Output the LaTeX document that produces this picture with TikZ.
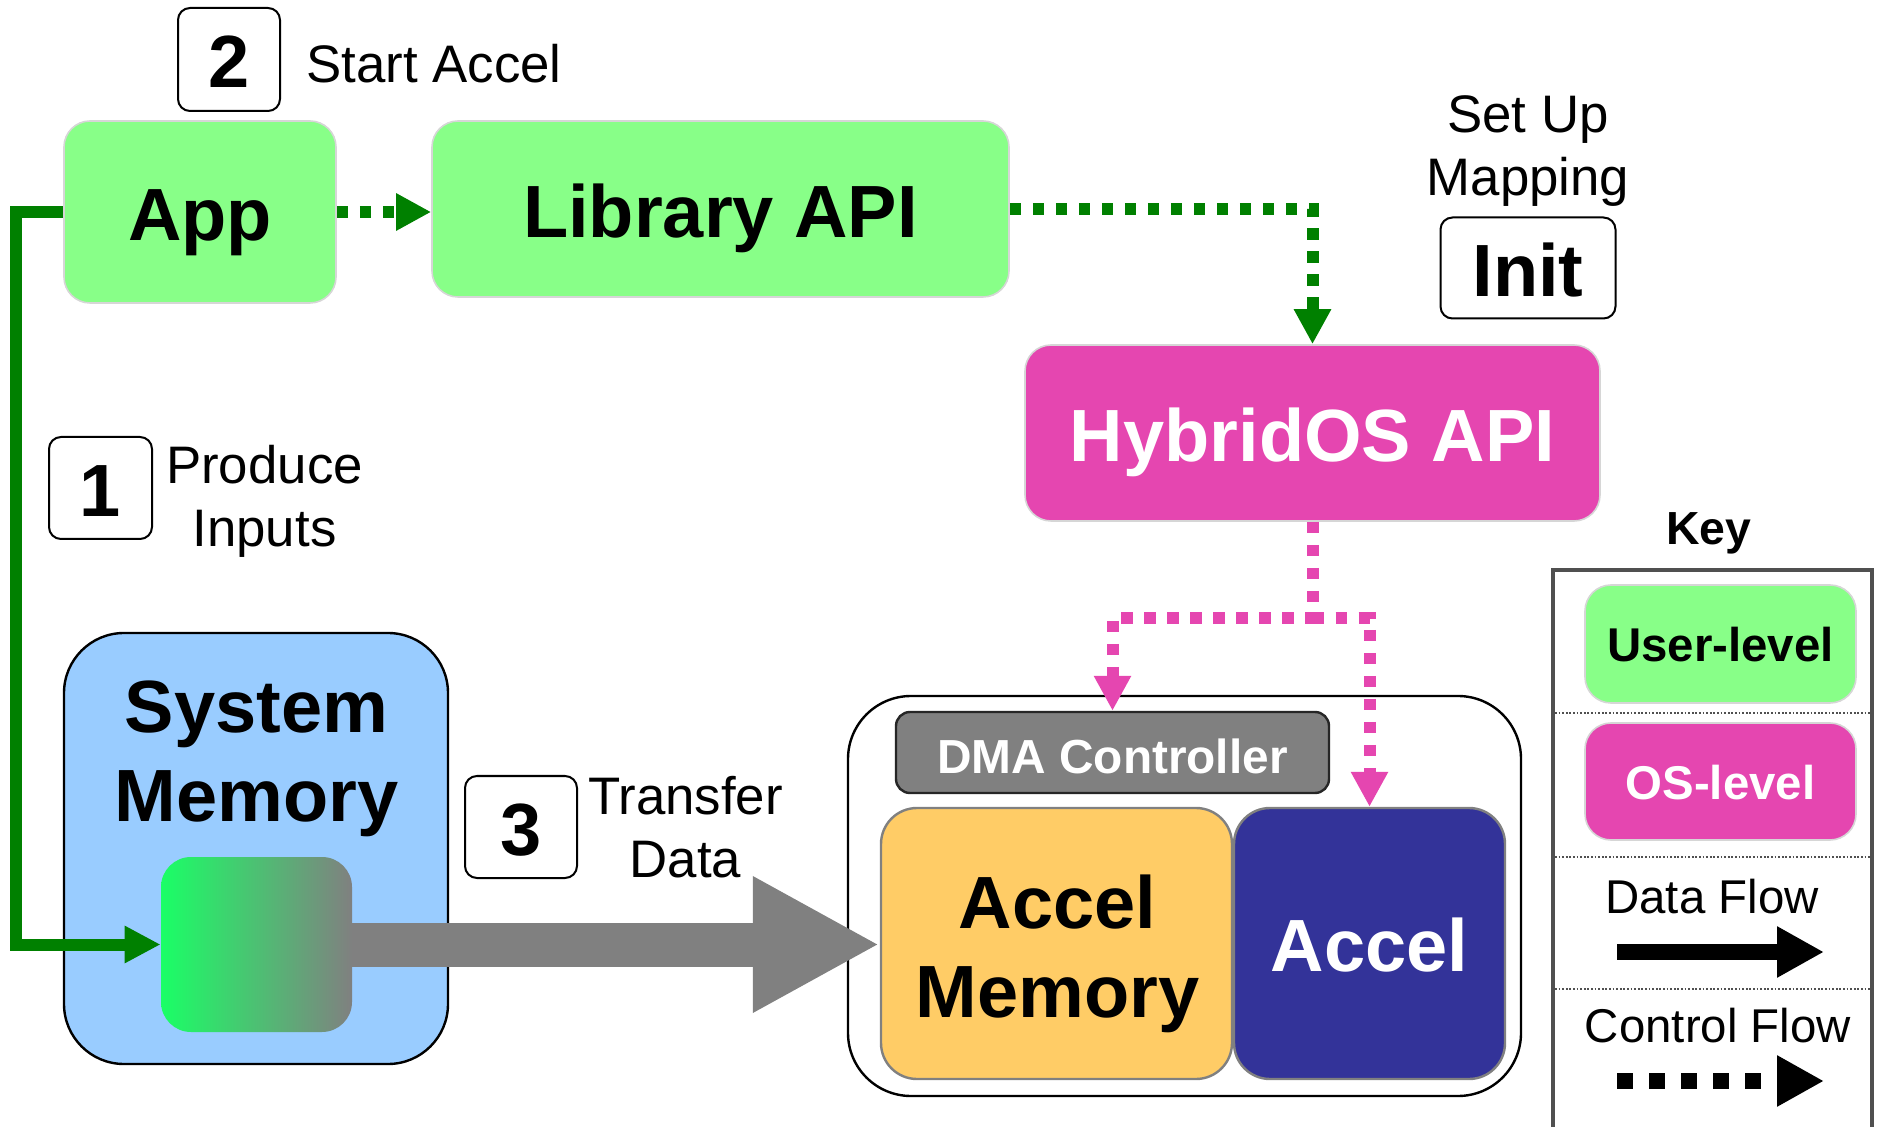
\documentclass[tikz,border=0pt]{standalone}
\usepackage{fontspec}
\setmainfont{Liberation Sans}
\usetikzlibrary{arrows.meta,calc}

\definecolor{usergreen}{HTML}{88FF88}
\definecolor{ospink}{HTML}{E546B0}
\definecolor{softedge}{HTML}{D6D6D6}
\definecolor{sysblue}{HTML}{99CCFF}
\definecolor{bufgreen}{HTML}{1AFF66}
\definecolor{midgray}{HTML}{808080}
\definecolor{memorange}{HTML}{FFCC66}
\definecolor{accblue}{HTML}{333399}
\definecolor{flowgreen}{HTML}{008000}
\definecolor{keyedge}{HTML}{505050}
\definecolor{dmaedge}{HTML}{262626}

\begin{document}
\begin{tikzpicture}[x=0.5pt,y=-0.5pt,
  bigbold/.style={font=\fontsize{37}{44.5}\selectfont\bfseries},
  keyfont/.style={font=\fontsize{23.7}{28.4}\selectfont},
  notefont/.style={font=\fontsize{26.4}{31.7}\selectfont},
  bigbox/.style={inner sep=0pt, bigbold, text height=35.5pt, text depth=7.4pt},
  keybox/.style={inner sep=0pt, keyfont, text height=22.7pt, text depth=4.7pt},
  userbox/.style={fill=usergreen, draw=softedge, line width=0.8pt, rounded corners=13pt},
  osbox/.style={fill=ospink, draw=softedge, line width=0.8pt, rounded corners=13pt, text=white},
  stepnum/.style={bigbox, draw=black, line width=1pt, rounded corners=6pt, fill=white},
  plaintext/.style={inner sep=0pt, align=center},
  ctrlflow/.style={line width=6pt, dash pattern=on 5.75pt off 5.75pt,
    -{Triangle[length=17.5pt,width=17.5pt]}},
  keyarrow/.style={line width=8pt, -{Triangle[length=23.5pt,width=24pt]}},
  sepline/.style={draw=keyedge, line width=0.8pt, dash pattern=on 0.9pt off 0.9pt},
]
\useasboundingbox (0,0) rectangle (1879,1127);

% ---- user-level software ----
\node[stepnum, minimum width=51pt, minimum height=51.5pt] (n2) at (229,59.5) {2};
\node[notefont, inner sep=0pt, anchor=base west] (t2) at (306,83) {Start Accel};
\node[bigbox, userbox, minimum width=136pt, minimum height=91pt] (app) at (200,212) {App};
\node[bigbox, userbox, minimum width=288.5pt, minimum height=88pt] (lib) at (720.5,209) {Library API};

% ---- OS level ----
\node[notefont, plaintext] (t0) at (1528,151) {Set Up\\Mapping};
\node[stepnum, minimum width=87.5pt, minimum height=50.5pt] (init) at (1528,268) {Init};
\node[bigbox, osbox, minimum width=287.5pt, minimum height=88pt] (hyb) at (1312.5,433) {HybridOS API};

% ---- system memory ----
\node[stepnum, minimum width=51.5pt, minimum height=51pt] (n1) at (100.5,488) {1};
\node[notefont, plaintext] (t1) at (264.5,501.5) {Produce\\Inputs};
\node[draw=black, line width=1.2pt, fill=sysblue, rounded corners=30pt,
      minimum width=192pt, minimum height=215.5pt, inner sep=0pt] (sysmem) at (256,848.5) {};
\node[bigbold, plaintext] (sysmemtext) at (256.5,759) {System\\Memory};
\node[inner sep=0pt, rounded corners=15pt, left color=bufgreen, right color=midgray,
      minimum width=95.5pt, minimum height=87.5pt] (buf) at (256.5,944.5) {};

% ---- accelerator device ----
\node[stepnum, minimum width=56pt, minimum height=51pt] (n3) at (521,827) {3};
\node[notefont, plaintext] (t3) at (685.5,827) {Transfer\\Data};
\node[draw=black, line width=1.2pt, fill=white, rounded corners=31.5pt,
      minimum width=336.5pt, minimum height=200pt, inner sep=0pt] (dev) at (1184.5,896) {};
\node[inner sep=0pt, font=\fontsize{23.9}{28.7}\selectfont\bfseries, text=white,
      text height=23pt, text depth=1.5pt, fill=midgray, draw=dmaedge, line width=1.2pt,
      rounded corners=7pt, minimum width=216.5pt, minimum height=40.5pt] (dma) at (1112.5,752.5) {DMA Controller};
\node[inner sep=0pt, fill=memorange, draw=midgray, line width=1.2pt, rounded corners=18pt,
      minimum width=175.5pt, minimum height=135.5pt] (accmem) at (1056.5,943.5) {};
\node[bigbold, plaintext] (accmemtext) at (1057.5,954) {Accel\\Memory};
\node[bigbox, text=white, fill=accblue, draw=midgray, line width=1.2pt, rounded corners=18pt,
      minimum width=135.5pt, minimum height=135.5pt] (accel) at (1369.5,943.5) {Accel};

% ---- connectors ----
\draw[ctrlflow, flowgreen] (app.east) -- (app.east -| lib.west);
\draw[ctrlflow, flowgreen] (lib.east) -| (hyb.north);
\coordinate (split) at ($(hyb.south)+(0,96)$);
\draw[ctrlflow, ospink] (hyb.south) -- (split) -| (dma.north);
\draw[ctrlflow, ospink] (split) -| (accel.north);
\draw[flowgreen, line width=6pt, -{Triangle[length=18pt,width=17.5pt]}]
  (app.west) -- ++(-47,0) |- (buf.west);
\draw[midgray, line width=22pt, -{Triangle[length=63.5pt,width=63.5pt]}]
  (buf.east) -- (buf.east -| accmem.west);

% ---- key ----
\node[inner sep=0pt, font=\fontsize{23.2}{28}\selectfont\bfseries] (keytitle) at (1709,533.5) {Key};
\draw[keyedge, line width=2.2pt] (1553,1140) -- (1553,570) -- (1872,570) -- (1872,1140);
\node[keybox, userbox, font=\fontsize{23.7}{28.4}\selectfont\bfseries,
      minimum width=135.5pt, minimum height=59pt] (keyuser) at (1720.5,644) {User-level};
\node[keybox, osbox, font=\fontsize{23.7}{28.4}\selectfont\bfseries,
      minimum width=135.5pt, minimum height=58.5pt] (keyos) at (1720.5,781.5) {OS-level};
\draw[sepline] (1555,713) -- (1870,713);
\draw[sepline] (1555,857) -- (1870,857);
\draw[sepline] (1555,989) -- (1870,989);
\node[keyfont, inner sep=0pt, anchor=base] (keydata) at (1712,913) {Data Flow};
\coordinate (dfs) at (1617,952);
\coordinate (dfe) at (1824,952);
\draw[keyarrow] (dfs) -- (dfe);
\node[keyfont, inner sep=0pt, anchor=base] (keyctrl) at (1718,1042) {Control Flow};
\coordinate (cfs) at (1617,1081);
\coordinate (cfe) at (1824,1081);
\draw[keyarrow, dash pattern=on 8pt off 8pt] (cfs) -- (cfe);
\end{tikzpicture}
\end{document}
